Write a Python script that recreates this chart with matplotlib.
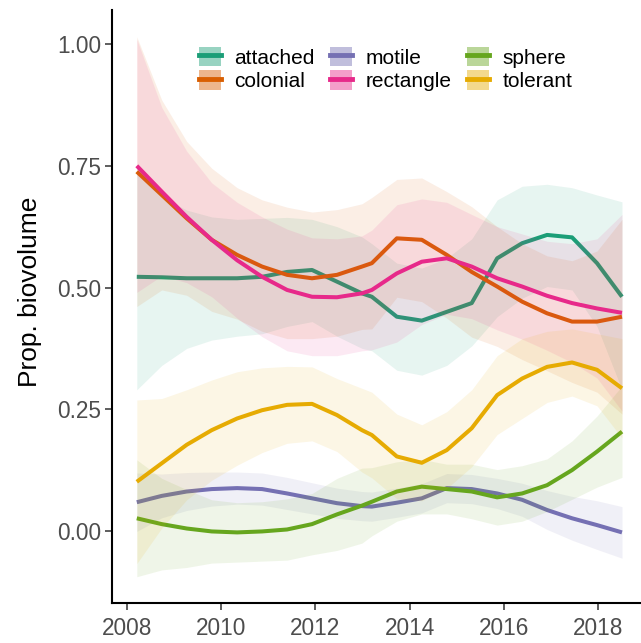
import matplotlib
matplotlib.use("Agg")
import matplotlib.pyplot as plt
from matplotlib.patches import Patch
from matplotlib.lines import Line2D
from matplotlib.legend_handler import HandlerTuple

plt.rcParams["font.family"] = ["Liberation Sans", "DejaVu Sans"]

# Sample times (decimal year)
years = [2008.21, 2008.74, 2009.27, 2009.80, 2010.34, 2010.87, 2011.40, 2011.93,
         2012.46, 2012.99, 2013.20, 2013.73, 2014.26, 2014.79, 2015.32, 2015.86,
         2016.39, 2016.92, 2017.45, 2017.98, 2018.51]

groups = ["attached", "colonial", "motile", "rectangle", "sphere", "tolerant"]
colors = ["#1B9E77", "#D95F02", "#7570B3", "#E7298A", "#66A61E", "#E6AB02"]

# Smoothed proportion and its confidence band, per trait group
attached_fit = [0.522, 0.521, 0.519, 0.519, 0.519, 0.522, 0.532, 0.536, 0.512, 0.488, 0.481,
                0.440, 0.432, 0.450, 0.468, 0.560, 0.591, 0.608, 0.603, 0.550, 0.481]
attached_lo = [0.290, 0.340, 0.375, 0.392, 0.400, 0.405, 0.420, 0.430, 0.400, 0.375, 0.370,
               0.330, 0.320, 0.340, 0.380, 0.440, 0.478, 0.502, 0.495, 0.420, 0.290]
attached_hi = [0.750, 0.686, 0.659, 0.645, 0.640, 0.642, 0.644, 0.640, 0.625, 0.604, 0.590,
               0.550, 0.540, 0.560, 0.600, 0.680, 0.708, 0.712, 0.705, 0.690, 0.676]

colonial_fit = [0.738, 0.690, 0.642, 0.598, 0.567, 0.543, 0.526, 0.519, 0.526, 0.543, 0.550,
                0.601, 0.598, 0.567, 0.532, 0.502, 0.471, 0.447, 0.430, 0.430, 0.440]
colonial_lo = [0.461, 0.495, 0.484, 0.451, 0.435, 0.410, 0.395, 0.395, 0.400, 0.414, 0.415,
               0.480, 0.471, 0.437, 0.398, 0.379, 0.352, 0.329, 0.305, 0.285, 0.240]
colonial_hi = [1.015, 0.885, 0.800, 0.745, 0.705, 0.680, 0.665, 0.655, 0.660, 0.672, 0.685,
               0.722, 0.725, 0.697, 0.666, 0.625, 0.590, 0.565, 0.555, 0.575, 0.640]

motile_fit = [0.059, 0.072, 0.081, 0.086, 0.088, 0.086, 0.077, 0.067, 0.057, 0.051, 0.050,
              0.058, 0.067, 0.088, 0.086, 0.077, 0.064, 0.043, 0.026, 0.012, -0.003]
motile_lo = [-0.001, 0.027, 0.042, 0.051, 0.055, 0.053, 0.044, 0.035, 0.026, 0.021, 0.020,
             0.028, 0.037, 0.058, 0.056, 0.046, 0.030, 0.003, -0.019, -0.038, -0.056]
motile_hi = [0.119, 0.117, 0.120, 0.121, 0.121, 0.119, 0.110, 0.099, 0.088, 0.081, 0.080,
             0.088, 0.097, 0.118, 0.116, 0.108, 0.098, 0.083, 0.071, 0.062, 0.050]

rectangle_fit = [0.750, 0.697, 0.645, 0.598, 0.556, 0.522, 0.495, 0.481, 0.480, 0.488, 0.495,
                 0.529, 0.553, 0.560, 0.543, 0.519, 0.502, 0.483, 0.468, 0.457, 0.448]
rectangle_lo = [0.490, 0.524, 0.510, 0.481, 0.437, 0.399, 0.370, 0.360, 0.360, 0.370, 0.372,
                0.388, 0.424, 0.445, 0.436, 0.413, 0.394, 0.371, 0.346, 0.314, 0.246]
rectangle_hi = [1.010, 0.870, 0.780, 0.715, 0.675, 0.645, 0.620, 0.602, 0.600, 0.606, 0.618,
                0.670, 0.682, 0.675, 0.650, 0.625, 0.610, 0.595, 0.590, 0.600, 0.650]

sphere_fit = [0.026, 0.014, 0.005, -0.001, -0.003, -0.001, 0.003, 0.014, 0.034, 0.052, 0.060,
              0.081, 0.091, 0.086, 0.081, 0.069, 0.077, 0.094, 0.125, 0.163, 0.204]
sphere_lo = [-0.094, -0.080, -0.075, -0.066, -0.064, -0.062, -0.060, -0.049, -0.040, -0.025, -0.010,
             0.020, 0.035, 0.035, 0.025, 0.012, 0.020, 0.040, 0.065, 0.090, 0.110]
sphere_hi = [0.146, 0.108, 0.085, 0.064, 0.058, 0.060, 0.066, 0.077, 0.108, 0.129, 0.130,
             0.142, 0.147, 0.137, 0.137, 0.126, 0.134, 0.148, 0.185, 0.236, 0.298]

tolerant_fit = [0.101, 0.139, 0.177, 0.207, 0.231, 0.248, 0.259, 0.261, 0.238, 0.207, 0.197,
                0.153, 0.140, 0.166, 0.211, 0.279, 0.313, 0.337, 0.346, 0.331, 0.293]
tolerant_lo = [-0.067, 0.006, 0.064, 0.104, 0.135, 0.161, 0.180, 0.185, 0.163, 0.121, 0.109,
               0.066, 0.062, 0.087, 0.132, 0.198, 0.231, 0.264, 0.277, 0.257, 0.191]
tolerant_hi = [0.269, 0.272, 0.290, 0.310, 0.327, 0.335, 0.338, 0.337, 0.313, 0.293, 0.285,
               0.240, 0.218, 0.245, 0.290, 0.360, 0.395, 0.410, 0.415, 0.405, 0.395]

fits = [attached_fit, colonial_fit, motile_fit, rectangle_fit, sphere_fit, tolerant_fit]
lows = [attached_lo, colonial_lo, motile_lo, rectangle_lo, sphere_lo, tolerant_lo]
highs = [attached_hi, colonial_hi, motile_hi, rectangle_hi, sphere_hi, tolerant_hi]

y_ticks = [0.00, 0.25, 0.50, 0.75, 1.00]
y_tick_labels = ["0.00", "0.25", "0.50", "0.75", "1.00"]
x_ticks = [2008, 2010, 2012, 2014, 2016, 2018]

W, H = 641, 643
fig = plt.figure(figsize=(W / 100, H / 100), dpi=100)
ax = fig.add_axes([112.3 / W, 1 - 603 / H, (644.6 - 112.3) / W, (603 - 10) / H])

z = 1
for name, col, fit, lo, hi in zip(groups, colors, fits, lows, highs):
    ax.fill_between(years, lo, hi, color=col, alpha=0.1, linewidth=0, zorder=z)
    ax.plot(years, fit, color=col, lw=2.9, solid_capstyle="butt",
            solid_joinstyle="round", zorder=z + 0.5)
    z += 1

ax.set_xlim(2007.69, 2018.99)
ax.set_ylim(-0.148, 1.070)
ax.set_xticks(x_ticks)
ax.set_yticks(y_ticks)
ax.set_yticklabels(y_tick_labels)

for side in ("top", "right"):
    ax.spines[side].set_visible(False)
for side in ("left", "bottom"):
    ax.spines[side].set_linewidth(1.5)
    ax.spines[side].set_color("black")

ax.tick_params(axis="both", length=5, width=1.1, color="#333333",
               labelsize=16.3, labelcolor="#4D4D4D")
ax.tick_params(axis="x", pad=5)
ax.tick_params(axis="y", pad=3)
ax.set_ylabel("Prop. biovolume", fontsize=19, color="black")
ax.yaxis.set_label_coords(-0.132, 0.525)

handles = [(Patch(facecolor=c, alpha=0.45, edgecolor="none"),
            Line2D([], [], color=c, lw=3.5)) for c in colors]
leg = ax.legend(handles, groups, ncol=3, frameon=False, fontsize=15,
                loc="upper left", bbox_to_anchor=(199 / W, 1 - 47 / H),
                bbox_transform=fig.transFigure, borderaxespad=0, borderpad=0,
                handlelength=1.05, handleheight=1.05, handletextpad=0.65,
                columnspacing=0.75, labelspacing=0.12,
                handler_map={tuple: HandlerTuple(ndivide=1, pad=0)})
leg.set_zorder(20)

fig.savefig("out.png", dpi=100)
